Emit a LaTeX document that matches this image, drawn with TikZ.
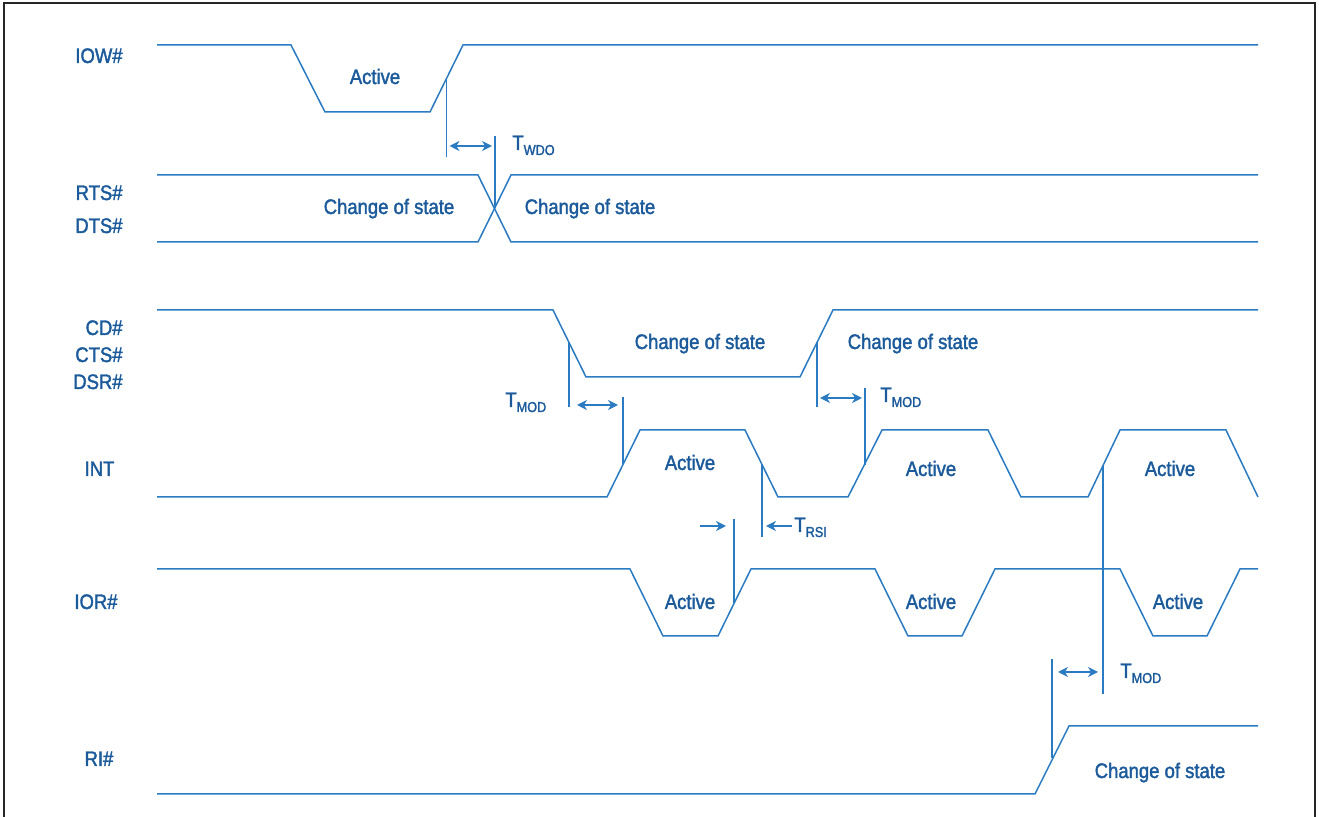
\documentclass[tikz,border=0pt]{standalone}
\usepackage{fontspec}
\setmainfont{Liberation Sans}[FakeStretch=0.88,FakeBold=1.8]
\usetikzlibrary{arrows.meta}
\definecolor{wavec}{HTML}{2A7BC1}
\definecolor{txtc}{HTML}{1B5A9B}
\newcommand{\Tsub}[1]{T\raisebox{-2.5pt}{\fontsize{7.2}{8}\selectfont #1}}
\begin{document}
\begin{tikzpicture}[x=0.5pt,y=-0.5pt,
  sig/.style={draw=wavec, line width=0.75pt},
  guide/.style={draw=wavec, line width=0.75pt},
  dimarrow/.style={draw=wavec, line width=0.75pt,
    {Stealth[length=5pt,width=5pt,inset=1.6pt]}-{Stealth[length=5pt,width=5pt,inset=1.6pt]}},
  onearrow/.style={draw=wavec, line width=0.75pt,
    -{Stealth[length=5pt,width=5pt,inset=1.6pt]}},
  lbl/.style={text=txtc, font=\fontsize{10.5}{12}\selectfont, inner sep=0pt},
  frame/.style={draw=black!85, line width=1pt}]
\useasboundingbox (0,0) rectangle (1319,817);
% frame (open at bottom)
\draw[frame] (3.5,817) -- (3.5,3.5) -- (1314.5,3.5) -- (1314.5,817);

% ---------- signal names ----------
\node[lbl, anchor=base east] (nIOW) at (123,63) {IOW\#};
\node[lbl, anchor=base east] (nRTS) at (123,200) {RTS\#};
\node[lbl, anchor=base east] (nDTS) at (123,233) {DTS\#};
\node[lbl, anchor=base east] (nCD)  at (123,335) {CD\#};
\node[lbl, anchor=base east] (nCTS) at (123,362) {CTS\#};
\node[lbl, anchor=base east] (nDSR) at (123,389) {DSR\#};
\node[lbl, anchor=base] (nINT) at (99.5,476) {INT};
\node[lbl, anchor=base] (nIOR) at (96,609) {IOR\#};
\node[lbl, anchor=base] (nRI)  at (99,766) {RI\#};

% ---------- waveforms ----------
% IOW#
\draw[sig] (157,45) -- (291,45) -- (325,112) -- (430,112) -- (463,45) -- (1258,45);
% RTS#/DTS#
\draw[sig] (157,175) -- (478,175) -- (511,242) -- (1258,242);
\draw[sig] (157,242) -- (478,242) -- (511,175) -- (1258,175);
% CD#/CTS#/DSR#
\draw[sig] (157,310) -- (553,310) -- (586,377) -- (800,377) -- (833,310) -- (1258,310);
% INT
\draw[sig] (157,497) -- (607,497) -- (640,430) -- (745,430) -- (778,497) -- (848,497)
  -- (882,430) -- (988,430) -- (1021,497) -- (1088,497) -- (1120,430) -- (1226,430) -- (1258,497);
% IOR#
\draw[sig] (157,569) -- (630,569) -- (663,636) -- (718,636) -- (751,569) -- (875,569)
  -- (908,636) -- (962,636) -- (995,569) -- (1120,569) -- (1153,636) -- (1207,636)
  -- (1240,569) -- (1258,569);
% RI#
\draw[sig] (157,794) -- (1035,794) -- (1069,726) -- (1258,726);

% ---------- state labels ----------
\node[lbl, anchor=base] (a1) at (375,84) {Active};
\node[lbl, anchor=base] (c1) at (389,214) {Change of state};
\node[lbl, anchor=base] (c2) at (590,214) {Change of state};
\node[lbl, anchor=base] (c3) at (700,349) {Change of state};
\node[lbl, anchor=base] (c4) at (913,349) {Change of state};
\node[lbl, anchor=base] (a2) at (690,470) {Active};
\node[lbl, anchor=base] (a3) at (931,476) {Active};
\node[lbl, anchor=base] (a4) at (1170,476) {Active};
\node[lbl, anchor=base] (a5) at (690,609) {Active};
\node[lbl, anchor=base] (a6) at (931,609) {Active};
\node[lbl, anchor=base] (a7) at (1178,609) {Active};
\node[lbl, anchor=base] (c5) at (1160,778) {Change of state};

% ---------- timing marks ----------
% T_WDO
\coordinate (w1t) at (446.5,79.5);  \coordinate (w1b) at (446.5,157);
\coordinate (w2t) at (495,136);     \coordinate (w2b) at (495,208.5);
\draw[guide] (w1t) -- (w1b);
\draw[guide] (w2t) -- (w2b);
\coordinate (wa) at (446.5,146); \coordinate (wb) at (495,146);
\draw[dimarrow, shorten <=1.5pt, shorten >=1.5pt] (wa) -- (wb);
\node[lbl, anchor=base west] (tWDO) at (512,150) {\Tsub{WDO}};

% T_MOD 1
\coordinate (m1t) at (569,342); \coordinate (m1b) at (569,407);
\coordinate (m2t) at (623,397); \coordinate (m2b) at (623,464);
\draw[guide] (m1t) -- (m1b);
\draw[guide] (m2t) -- (m2b);
\coordinate (ma) at (569,405); \coordinate (mb) at (623,405);
\draw[dimarrow, shorten <=4pt, shorten >=2.5pt] (ma) -- (mb);
\node[lbl, anchor=base west] (tMOD1) at (505,407) {\Tsub{MOD}};

% T_MOD 2
\coordinate (n1t) at (817,342.5); \coordinate (n1b) at (817,407);
\coordinate (n2t) at (865,388);   \coordinate (n2b) at (865,465);
\draw[guide] (n1t) -- (n1b);
\draw[guide] (n2t) -- (n2b);
\coordinate (na) at (817,398); \coordinate (nb) at (865,398);
\draw[dimarrow, shorten <=1.5pt, shorten >=1.5pt] (na) -- (nb);
\node[lbl, anchor=base west] (tMOD2) at (880,402) {\Tsub{MOD}};

% T_RSI
\coordinate (r1t) at (734,519);   \coordinate (r1b) at (734,603.5);
\coordinate (r2t) at (762,464.5); \coordinate (r2b) at (762,537);
\draw[guide] (r1t) -- (r1b);
\draw[guide] (r2t) -- (r2b);
\coordinate (ra0) at (700,526); \coordinate (ra1) at (734,526);
\coordinate (rb0) at (792,526); \coordinate (rb1) at (762,526);
\draw[onearrow, shorten >=4pt] (ra0) -- (ra1);
\draw[onearrow, shorten >=2pt] (rb0) -- (rb1);
\node[lbl, anchor=base west] (tRSI) at (794,532) {\Tsub{RSI}};

% T_MOD 3
\coordinate (p1t) at (1052,659);   \coordinate (p1b) at (1052,758.5);
\coordinate (p2t) at (1103,465.5); \coordinate (p2b) at (1103,694);
\draw[guide] (p1t) -- (p1b);
\draw[guide] (p2t) -- (p2b);
\coordinate (pa) at (1052,672); \coordinate (pb) at (1103,672);
\draw[dimarrow, shorten <=3pt, shorten >=2.5pt] (pa) -- (pb);
\node[lbl, anchor=base west] (tMOD3) at (1120,678) {\Tsub{MOD}};
\end{tikzpicture}
\end{document}
